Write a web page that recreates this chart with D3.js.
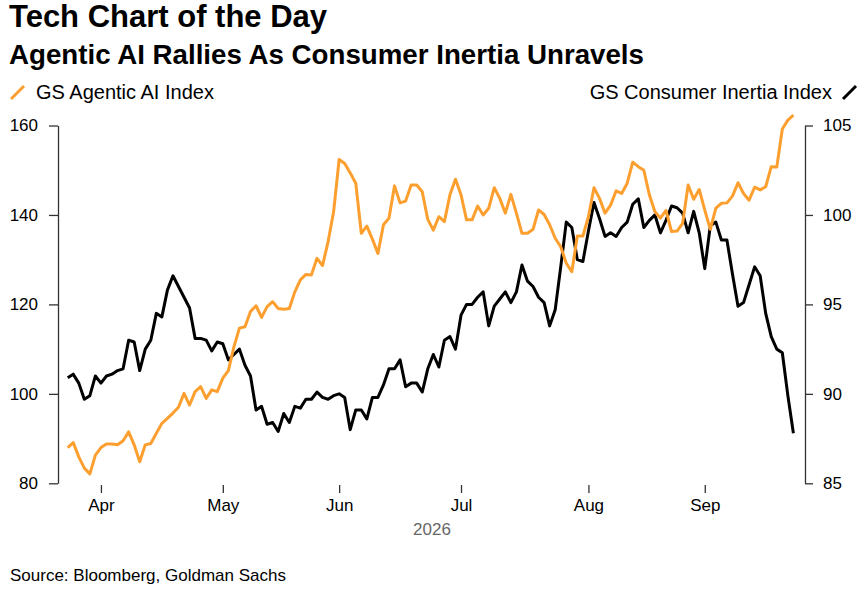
<!DOCTYPE html>
<html>
<head>
<meta charset="utf-8">
<script src="https://cdn.jsdelivr.net/npm/d3@7"></script>
<style>
  body { margin: 0; background: #fff; }
  svg text { font-family: "Liberation Sans", Arial, sans-serif; }
</style>
</head>
<body>
<svg id="chart" width="866" height="595"></svg>
<script>
// Series start (trading days, Mon-Fri)
const firstDay = new Date(2026, 2, 24);

// GS Agentic AI Index (left axis)
const agenticAI = [
  88.0, 89.1, 85.9, 83.4, 82.1, 86.3, 88.0, 88.8, 88.8, 88.6,
  89.5, 91.5, 88.6, 84.8, 88.6, 88.9, 91.2, 93.4, 94.5, 95.7,
  97.0, 100.1, 97.5, 100.5, 101.6, 99.0, 100.9, 100.5, 103.5, 105.2,
  110.5, 114.7, 115.0, 118.4, 119.7, 117.1, 119.5, 120.6, 119.1, 118.9,
  119.1, 122.8, 125.5, 126.7, 126.6, 130.3, 128.7, 134.0, 140.7, 152.4,
  151.5, 149.4, 147.1, 135.9, 137.5, 134.6, 131.4, 137.8, 139.3, 146.5,
  142.7, 143.1, 146.7, 146.7, 145.2, 139.0, 136.6, 139.6, 138.5, 144.5,
  148.0, 144.5, 138.9, 138.9, 142.0, 140.0, 141.5, 146.1, 143.7, 140.4,
  144.6, 140.4, 135.9, 135.9, 136.8, 141.1, 140.1, 137.8, 134.8, 132.9,
  129.2, 127.3, 135.3, 135.3, 139.6, 146.1, 143.7, 140.4, 142.2, 145.4,
  144.8, 147.1, 151.8, 150.8, 150.0, 144.5, 140.7, 139.3, 141.0, 136.3,
  136.4, 138.1, 146.7, 143.5, 145.7, 141.1, 136.8, 141.5, 142.6, 142.7,
  144.2, 147.2, 144.8, 143.3, 146.2, 145.6, 146.3, 150.8, 150.7, 159.2,
  161.2, 162.3
];

// GS Consumer Inertia Index (right axis)
const consumerInertia = [
  90.9, 91.1, 90.6, 89.7, 89.9, 91.0, 90.6, 91.0, 91.1, 91.3,
  91.4, 93.0, 92.9, 91.3, 92.5, 93.0, 94.5, 94.3, 95.8, 96.6,
  96.0, 95.4, 94.8, 93.1, 93.1, 93.0, 92.4, 92.9, 92.8, 91.9,
  92.2, 92.5, 91.6, 91.0, 89.1, 89.3, 88.3, 88.4, 87.9, 88.9,
  88.4, 89.3, 89.2, 89.7, 89.7, 90.1, 89.8, 89.7, 89.9, 90.0,
  89.8, 88.0, 89.1, 89.1, 88.6, 89.8, 89.8, 90.5, 91.4, 91.4,
  91.9, 90.4, 90.6, 90.6, 90.1, 91.4, 92.2, 91.5, 93.0, 93.2,
  92.5, 94.4, 95.0, 95.0, 95.4, 95.7, 93.8, 94.9, 95.3, 95.7,
  95.1, 95.7, 97.2, 96.3, 96.0, 95.4, 95.1, 93.8, 94.7, 97.1,
  99.6, 99.3, 97.5, 97.4, 99.1, 100.7, 99.8, 98.8, 99.0, 98.8,
  99.3, 99.6, 100.6, 100.9, 99.3, 99.7, 100.0, 99.0, 99.7, 100.5,
  100.4, 100.1, 99.0, 100.2, 99.0, 97.0, 99.4, 99.6, 98.6, 98.6,
  96.7, 94.9, 95.1, 96.1, 97.1, 96.6, 94.5, 93.2, 92.5, 92.3,
  89.9, 87.8
];

const leftTicks = [80, 100, 120, 140, 160];
const rightTicks = [85, 90, 95, 100, 105];
const monthLabels = ["Apr", "May", "Jun", "Jul", "Aug", "Sep"];
const yearLabel = "2026";

const orange = "#fd9f2f";
const axisColor = "#333";

const svg = d3.select("#chart");

// trading days
const days = d3.timeDay.range(firstDay, d3.timeDay.offset(firstDay, 250))
  .filter(d => d.getDay() !== 0 && d.getDay() !== 6)
  .slice(0, agenticAI.length);
const fmtMonth = d3.timeFormat("%b");
const monthIdx = monthLabels.map(m => days.findIndex(d => fmtMonth(d) === m));

// Skalen
const x = d3.scaleLinear().domain([0, days.length - 1]).range([67.7, 793.4]);
const yL = d3.scaleLinear().domain([80, 160]).range([483.3, 125.5]);
const yR = d3.scaleLinear().domain([85, 105]).range([483.3, 125.5]);

// Titel
svg.append("text").attr("x", 9).attr("y", 27)
  .attr("font-size", 31).attr("font-weight", "bold").attr("fill", "#000")
  .text("Tech Chart of the Day");
svg.append("text").attr("x", 9).attr("y", 64)
  .attr("font-size", 27.7).attr("font-weight", "bold").attr("fill", "#000")
  .text("Agentic AI Rallies As Consumer Inertia Unravels");

// Legende
svg.append("line").attr("x1", 11).attr("y1", 99).attr("x2", 24).attr("y2", 86)
  .attr("stroke", orange).attr("stroke-width", 3);
svg.append("text").attr("x", 36).attr("y", 99).attr("font-size", 20)
  .text("GS Agentic AI Index");
svg.append("line").attr("x1", 843).attr("y1", 99).attr("x2", 856).attr("y2", 86)
  .attr("stroke", "#000").attr("stroke-width", 3);
svg.append("text").attr("x", 832).attr("y", 99).attr("font-size", 20)
  .attr("text-anchor", "end").text("GS Consumer Inertia Index");

// Achsen
const styleAxis = g => {
  g.selectAll("path, line").attr("stroke", axisColor).attr("stroke-width", 1.3);
  g.selectAll("text").attr("font-size", 17).attr("fill", "#000")
    .attr("font-family", "Liberation Sans, Arial, sans-serif");
};

svg.append("g").attr("transform", "translate(58,0)")
  .call(d3.axisLeft(yL).tickValues(leftTicks).tickSize(9).tickSizeOuter(0).tickPadding(11))
  .call(styleAxis);

svg.append("g").attr("transform", "translate(805,0)")
  .call(d3.axisRight(yR).tickValues(rightTicks).tickSize(8).tickSizeOuter(0).tickPadding(10))
  .call(styleAxis);

svg.append("g").attr("transform", "translate(0,485)")
  .call(d3.axisBottom(x).tickValues(monthIdx).tickFormat((d, i) => monthLabels[i])
    .tickSize(8).tickPadding(6))
  .call(g => g.select(".domain").remove())
  .call(styleAxis);

svg.append("text").attr("x", 432).attr("y", 535).attr("text-anchor", "middle")
  .attr("font-size", 17).attr("fill", "#666").text(yearLabel);

// Linien
const lineR = d3.line().x((d, i) => x(i)).y(d => yR(d));
const lineL = d3.line().x((d, i) => x(i)).y(d => yL(d));

svg.append("path").datum(consumerInertia)
  .attr("d", lineR).attr("fill", "none").attr("stroke", "#000")
  .attr("stroke-width", 3).attr("stroke-linejoin", "round");
svg.append("path").datum(agenticAI)
  .attr("d", lineL).attr("fill", "none").attr("stroke", orange)
  .attr("stroke-width", 3).attr("stroke-linejoin", "round");

// Quelle
svg.append("text").attr("x", 10).attr("y", 581).attr("font-size", 17)
  .text("Source: Bloomberg, Goldman Sachs");
</script>
</body>
</html>
